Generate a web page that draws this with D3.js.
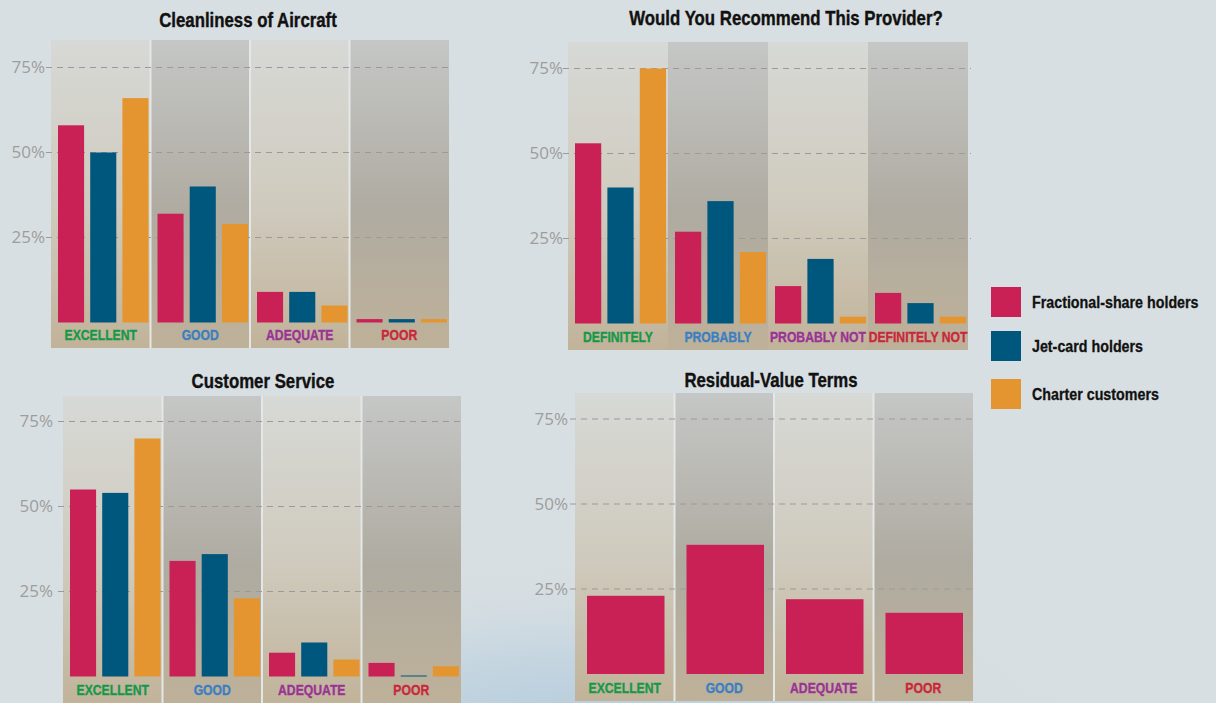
<!DOCTYPE html>
<html>
<head>
<meta charset="utf-8">
<script src="https://cdn.jsdelivr.net/npm/d3@7"></script>
<style>
  html,body{margin:0;padding:0;background:#d8dfe2;}
  svg{display:block;}
  .cond{font-family:"Liberation Sans",Arial,sans-serif;font-weight:bold;}
  .tick text{font-family:"Open Sans","DejaVu Sans",sans-serif;font-size:17px;fill:#9d9d9d;}
</style>
</head>
<body>
<svg id="chart" width="1216" height="703"></svg>
<script>
'use strict';

// data
var seriesNames=['Fractional-share holders','Jet-card holders','Charter customers'];
var seriesColors=['#c92155','#00577e','#e4952f'];
var ratingCats=['EXCELLENT','GOOD','ADEQUATE','POOR'];
var recommendCats=['DEFINITELY','PROBABLY','PROBABLY NOT','DEFINITELY NOT'];
var catColors=['#16984a','#3b7fc2','#9a3396','#c9283a'];
var yTicks=[25,50,75];

var cleanliness=[[58,32,9,1],[50,40,9,1],[66,29,5,1]];
var recommend=[[53,27,11,9],[40,36,19,6],[75,21,2,2]];
var service=[[55,34,7,4],[54,36,10,0.3],[70,23,5,3]];
var residual=[[23,38,22,18]];

var panels=[
    {title:'Cleanliness of Aircraft',cats:ratingCats,vals:cleanliness,
     x0:51,x1:449,top:40,zero:322.5,bottom:348,tx:248,ty:27,ly:340,lab:6,div:true}
  , {title:'Would You Recommend This Provider?',cats:recommendCats,vals:recommend,
     x0:568,x1:968,top:42,zero:323.5,bottom:350,tx:786,ty:25,ly:342,lab:5,div:false}
  , {title:'Customer Service',cats:ratingCats,vals:service,
     x0:63,x1:461,top:396,zero:676.5,bottom:705,tx:263,ty:388,ly:695,lab:10,div:true}
  , {title:'Residual-Value Terms',cats:ratingCats,vals:residual,
     x0:575,x1:973,top:393,zero:674,bottom:701,tx:771,ty:387,ly:693,lab:7,div:true}
];

var SQ=0.84; // horizontal squeeze to mimic a condensed face

var svg=d3.select('#chart')
  , defs=svg.append('defs')

// background glow
var glow=defs.append('radialGradient').attr('id','glow');
glow.append('stop').attr('offset','0%').attr('stop-color','#acc6d9').attr('stop-opacity',1);
glow.append('stop').attr('offset','50%').attr('stop-color','#c0d3e0').attr('stop-opacity',0.8);
glow.append('stop').attr('offset','100%').attr('stop-color','#d8dfe2').attr('stop-opacity',0);
svg.append('rect').attr('width',1216).attr('height',703).attr('fill','#d8dfe2');
svg.append('ellipse').attr('cx',590).attr('cy',760).attr('rx',520).attr('ry',210).attr('fill','url(#glow)');

function grad(id,stops){
    var g=defs.append('linearGradient').attr('id',id)
        .attr('x1',0).attr('y1',0).attr('x2',0).attr('y2',1);
    stops.forEach(function(s){
        g.append('stop').attr('offset',s[0]).attr('stop-color',s[1]);
    });
}
grad('light',[['0%','#d7d9d6'],['55%','#cfcabd'],['100%','#c1b399']]);
grad('dark',[['0%','#c5c7c6'],['55%','#afaba1'],['100%','#beb199']]);

function place(x,y){
    return 'translate('+x+','+y+') scale('+SQ+',1)';
}

panels.forEach(function(p,pi){
    var g=svg.append('g')
      , y=d3.scaleLinear().domain([0,75]).range([p.zero,p.zero-255])
      , x=d3.scaleBand().domain(p.cats).range([p.x0,p.x1])
      , single=p.vals.length==1
      , xi=d3.scaleBand().domain(d3.range(p.vals.length))
            .range(single?[12,x.bandwidth()-10]:[7,x.bandwidth()-2])
            .paddingInner(single?0:0.19)

    // columns
    g.selectAll('rect.col').data(p.cats).join('rect')
        .attr('class','col')
        .attr('x',function(d){return x(d);})
        .attr('y',p.top)
        .attr('width',x.bandwidth())
        .attr('height',p.bottom-p.top)
        .attr('fill',function(d,i){return i%2?'url(#dark)':'url(#light)';});

    if(p.div){
        g.selectAll('line.div').data(p.cats.slice(1)).join('line')
            .attr('x1',function(d){return x(d);})
            .attr('x2',function(d){return x(d);})
            .attr('y1',p.top).attr('y2',p.bottom)
            .attr('stroke','#e4e7e7').attr('stroke-width',2);
    }

    // grid
    g.selectAll('line.grid').data(yTicks).join('line')
        .attr('x1',p.x0-5).attr('x2',p.x1+3)
        .attr('y1',function(d){return y(d);})
        .attr('y2',function(d){return y(d);})
        .attr('stroke','#9a9a9a').attr('stroke-width',1)
        .attr('stroke-dasharray','6,5');

    g.append('g')
        .attr('transform','translate('+(p.x0-p.lab)+',0)')
        .call(d3.axisLeft(y).tickValues(yTicks).tickSize(0).tickPadding(0)
            .tickFormat(function(d){return d+'%';}))
        .call(function(a){a.select('.domain').remove();});

    // bars
    p.vals.forEach(function(vals,si){
        g.selectAll('rect.s'+si).data(vals).join('rect')
            .attr('class','s'+si)
            .attr('x',function(d,i){return x(p.cats[i])+xi(si);})
            .attr('y',function(d){return y(d);})
            .attr('width',xi.bandwidth())
            .attr('height',function(d){return y(0)-y(d);})
            .attr('fill',seriesColors[si]);
    });

    // category labels
    g.selectAll('text.cat').data(p.cats).join('text')
        .attr('class','cond')
        .attr('transform',function(d){return place(x(d)+x.bandwidth()/2,p.ly);})
        .attr('text-anchor','middle')
        .attr('font-size',14.5)
        .attr('fill',function(d,i){return catColors[i];})
        .attr('stroke',function(d,i){return catColors[i];})
        .attr('stroke-width',0.35)
        .text(function(d){return d;});

    g.append('text')
        .attr('class','cond')
        .attr('transform',place(p.tx,p.ty))
        .attr('text-anchor','middle')
        .attr('font-size',20)
        .attr('fill','#111').attr('stroke','#111').attr('stroke-width',0.4)
        .text(p.title);
});

// legend
var lg=svg.append('g').attr('transform','translate(991,287)');
var items=lg.selectAll('g').data(seriesNames).join('g')
    .attr('transform',function(d,i){return 'translate(0,'+[0,44,92][i]+')';});
items.append('rect').attr('width',30).attr('height',30)
    .attr('fill',function(d,i){return seriesColors[i];});
items.append('text').attr('class','cond')
    .attr('transform',place(41,21))
    .attr('font-size',17).attr('fill','#111').attr('stroke','#111').attr('stroke-width',0.3)
    .text(function(d){return d;});
</script>
</body>
</html>
